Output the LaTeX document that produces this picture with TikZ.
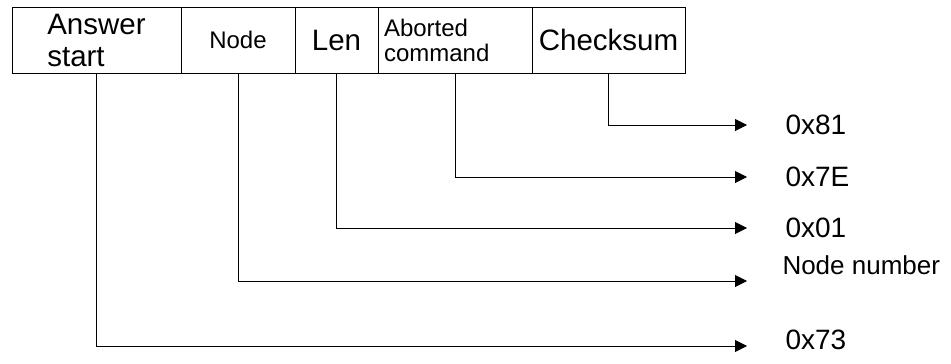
\documentclass[tikz,border=0pt]{standalone}
\usepackage{fontspec}
\setmainfont{Liberation Sans}
\usetikzlibrary{arrows.meta,positioning}

\begin{document}
\begin{tikzpicture}
  [x=1pt,y=-1pt,line width=1pt,node distance=0pt,
   >={Triangle[length=12pt,width=12pt]}]
  \tikzstyle{field}=[draw=black,minimum height=66pt,inner sep=0pt,outer sep=0pt,anchor=north west]
  \tikzstyle{big}=[font=\fontsize{29.5}{32}\selectfont]
  \tikzstyle{small}=[font=\fontsize{24}{25}\selectfont]
  \tikzstyle{value}=[anchor=west,inner sep=0pt,font=\fontsize{28}{30}\selectfont]

  \useasboundingbox (0,0) rectangle (951,364);

  % frame fields
  \node[field,big,align=left,minimum width=169pt] (ans) at (12,7) {Answer\\start};
  \node[field,small,minimum width=114pt] (node) [right=of ans] {Node};
  \node[field,big,minimum width=83pt] (len) [right=of node] {Len};
  \node[field,small,align=left,text width=142pt,inner xsep=6pt,minimum width=154pt] (abort) [right=of len] {Aborted\\command};
  \node[field,big,minimum width=153pt] (chk) [right=of abort] {Checksum};

  % values
  \node[value] (v81) at (785,125) {0x81};
  \node[value] (v7e) at (785,177) {0x7E};
  \node[value] (v01) at (785,228) {0x01};
  \node[value,font=\fontsize{26}{28}\selectfont] (vnum) at (782,265) {Node number};
  \node[value] (v73) at (785,340) {0x73};

  \coordinate (e81) at (747,125);
  \coordinate (e7e) at (747,177);
  \coordinate (e01) at (747,228);
  \coordinate (enum) at (747,281);
  \coordinate (e73) at (747,346);

  \draw[->] (chk.south) |- (e81);
  \draw[->] (abort.south) |- (e7e);
  \draw[->] (len.south) |- (e01);
  \draw[->] (node.south) |- (enum);
  \draw[->] (ans.south) |- (e73);
\end{tikzpicture}
\end{document}
